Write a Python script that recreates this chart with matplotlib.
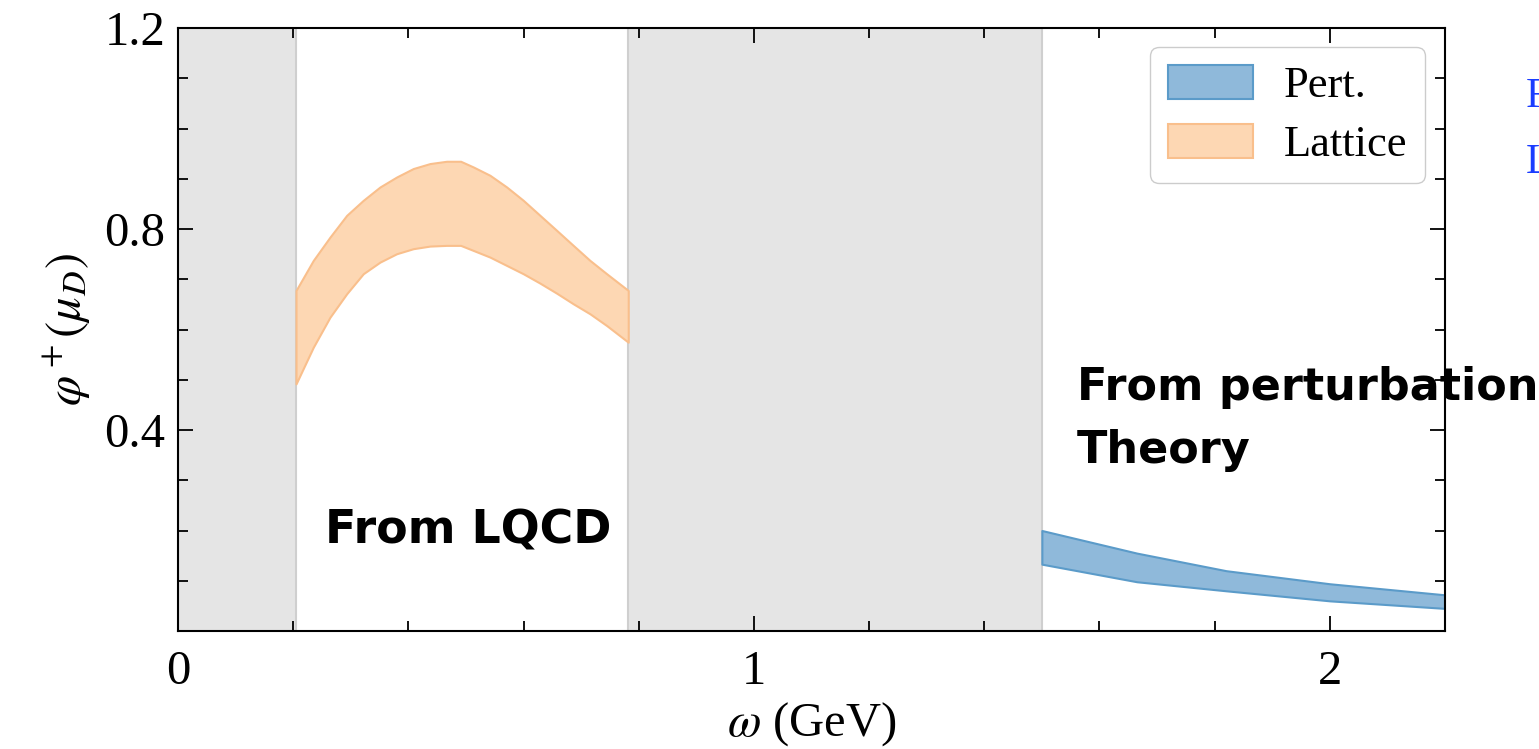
import matplotlib.pyplot as plt
import numpy as np

# lattice band (LQCD region)
lat_w = [0.2049, 0.2349, 0.2639, 0.2929, 0.3217, 0.3507, 0.3797, 0.4085, 0.4375, 0.4665,
	0.4908, 0.5127, 0.5417, 0.5707, 0.5995, 0.6285, 0.6575, 0.6863, 0.7153, 0.7443, 0.7818]
lat_hi = [0.6777, 0.7375, 0.7839, 0.8272, 0.8571, 0.8836, 0.9035, 0.9203, 0.9302, 0.9348,
	0.9348, 0.9235, 0.9069, 0.8836, 0.8571, 0.8272, 0.7973, 0.7674, 0.7375, 0.7110, 0.6777]
lat_lo = [0.4917, 0.5647, 0.6245, 0.6711, 0.7110, 0.7341, 0.7508, 0.7608, 0.7660, 0.7674,
	0.7674, 0.7574, 0.7441, 0.7275, 0.7110, 0.6923, 0.6723, 0.6512, 0.6313, 0.6079, 0.5747]

# perturbative band
pert_w = [1.5, 1.665, 1.82, 2.0, 2.2]
pert_hi = [0.20, 0.155, 0.12, 0.094, 0.072]
pert_lo = [0.133, 0.098, 0.08, 0.06, 0.045]

# shaded windows without a curve
gaps = [(0.0, 0.2049), (0.7818, 1.5)]

plt.rcParams['font.family'] = ['Liberation Serif', 'DejaVu Serif']
plt.rcParams['mathtext.fontset'] = 'stix'

W, H = 1539, 749
fig = plt.figure(figsize=(W/100, H/100), dpi=100)
ax = fig.add_axes([178/W, 1-631/H, (1445-178)/W, (631-28)/H])

for a, b in gaps:
	ax.axvspan(a, b, color='#e5e5e5', lw=0, zorder=0)
	ax.axvline(a, color='#cfcfcf', lw=1.5, zorder=0.5)
	ax.axvline(b, color='#cfcfcf', lw=1.5, zorder=0.5)

ax.fill_between(pert_w, pert_lo, pert_hi, facecolor='#8fb9da', edgecolor='#5b9bc9', lw=1.5, label='Pert.')
ax.fill_between(lat_w, lat_lo, lat_hi, facecolor='#fdd7b3', edgecolor='#f9bf8c', lw=1.5, label='Lattice')

ax.set_xlim(0, 2.2)
ax.set_ylim(0, 1.2)
ax.set_xticks([0, 1, 2])
ax.set_xticks(np.arange(0.2, 2.2, 0.2), minor=True)
ax.set_yticks([0.4, 0.8, 1.2])
ax.set_yticklabels(['0.4', '0.8', '1.2'])
ax.set_yticks(np.arange(0.1, 1.2, 0.1), minor=True)
ax.tick_params(which='both', direction='in', top=True, right=True, labelsize=35, width=1.3)
ax.tick_params(which='major', length=11)
ax.tick_params(which='minor', length=7)
ax.tick_params(axis='x', which='major', pad=14)
ax.tick_params(axis='y', which='major', pad=9)
for s in ax.spines.values():
	s.set_linewidth(1.5)

ax.set_xlabel(r'$\omega$ (GeV)', fontsize=35, labelpad=4)
ax.set_ylabel(r'$\varphi^+(\mu_D)$', fontsize=35, labelpad=8)

leg = ax.legend(loc='upper right', fontsize=32, handlelength=1.9, handleheight=0.8,
	handletextpad=0.7, borderpad=0.4, labelspacing=0.4, framealpha=1, borderaxespad=0,
	edgecolor='#cccccc', fancybox=True, bbox_to_anchor=((1425-178)/1267, (631-47)/603))

ax.text(325/W, 1-543/H, 'From LQCD', transform=fig.transFigure, fontsize=33,
	family='DejaVu Sans', weight='bold', va='baseline')
ax.text(1077/W, 1-400/H, 'From perturbation', transform=fig.transFigure, fontsize=32,
	family='DejaVu Sans', weight='bold', va='baseline', clip_on=False)
ax.text(1077/W, 1-463/H, 'Theory', transform=fig.transFigure, fontsize=32,
	family='DejaVu Sans', weight='bold', va='baseline')

# letters of a neighbouring panel, cut by the right edge as in the source
fig.text(1526/W, 1-107/H, 'F', color='#1a3cff', fontsize=30, va='baseline')
fig.text(1526/W, 1-173/H, 'L', color='#1a3cff', fontsize=30, va='baseline')

fig.savefig('out.png', dpi=100)
